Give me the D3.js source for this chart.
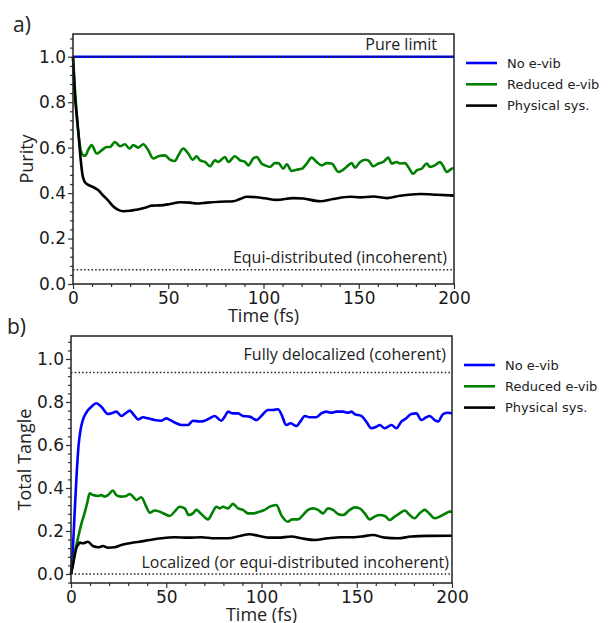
<!DOCTYPE html>
<html>
<head>
<meta charset="utf-8">
<script src="https://cdn.jsdelivr.net/npm/d3@7"></script>
<style>
  body { margin: 0; background: #fff; }
  svg { display: block; }
</style>
</head>
<body>
<svg width="609" height="623"></svg>
<script>
// values, [time (fs), value]
const timeTicks = [0, 50, 100, 150, 200]
const valueTicks = [0, 0.2, 0.4, 0.6, 0.8, 1.0]
const legendLabels = ['No e-vib', 'Reduced e-vib', 'Physical sys.']

const purityNoEvib = [[0, 1], [200, 1]]
const purityReduced = [[0,1],[1,0.86],[2,0.74],[3,0.65],[4,0.59],[5.4,0.566],[6.5,0.565],[8,0.59],[9.8,0.611],[12.4,0.574],[15,0.588],[17.7,0.603],[19.4,0.603],[22,0.625],[24.7,0.606],[27.3,0.615],[29.6,0.596],[31.7,0.611],[34.3,0.6],[36.9,0.615],[39.5,0.588],[42.2,0.552],[44.8,0.562],[48.3,0.566],[50.9,0.547],[53.5,0.541],[55.3,0.566],[57.9,0.596],[60.5,0.574],[62.8,0.547],[64.9,0.562],[66.7,0.544],[69.3,0.537],[71.9,0.518],[74.5,0.544],[76.3,0.537],[79.8,0.559],[81.5,0.537],[85,0.562],[87.7,0.544],[90.3,0.537],[92,0.522],[94.6,0.552],[96.4,0.559],[99,0.53],[100.8,0.522],[103.4,0.515],[106,0.532],[107.8,0.532],[110.4,0.507],[112.2,0.527],[114.8,0.497],[117.4,0.503],[120.1,0.507],[122.7,0.53],[125.3,0.556],[127.9,0.537],[130.6,0.522],[133.2,0.532],[135.8,0.53],[139.3,0.493],[141.9,0.503],[144.5,0.522],[146.3,0.532],[148,0.512],[150.7,0.537],[153.3,0.547],[155,0.544],[157.6,0.518],[160.3,0.53],[162.9,0.537],[165.5,0.556],[167.3,0.53],[169.9,0.537],[171.7,0.53],[174.3,0.532],[176,0.515],[178.6,0.485],[180.4,0.5],[183,0.507],[185.7,0.53],[187.4,0.515],[190,0.522],[192.7,0.537],[194.1,0.522],[196.2,0.493],[198.8,0.507],[200,0.51]]
const purityPhysical = [[0,1],[1,0.83],[2,0.74],[3,0.65],[4,0.55],[5,0.48],[6,0.452],[8,0.436],[10.7,0.426],[13.3,0.412],[15.9,0.389],[18.5,0.367],[21.2,0.341],[23.8,0.326],[26.4,0.32],[29.9,0.322],[33.4,0.327],[37.8,0.335],[41.3,0.345],[45.7,0.346],[50.9,0.352],[56.2,0.36],[61.4,0.358],[64.9,0.354],[70.2,0.358],[77.2,0.362],[84.1,0.364],[87.7,0.374],[91.2,0.384],[96.4,0.382],[100.8,0.377],[106.9,0.37],[115.6,0.378],[120.9,0.376],[129.7,0.364],[136.6,0.374],[145.4,0.384],[150.7,0.381],[157.6,0.385],[164.7,0.378],[171.7,0.388],[182.2,0.396],[190.9,0.393],[200,0.389]]

const tangleNoEvib = [[0,0],[1,0.12],[2,0.3],[3,0.47],[4,0.6],[5,0.67],[6,0.71],[8,0.75],[10.7,0.778],[13.3,0.794],[15.9,0.778],[19.4,0.744],[22,0.75],[23.8,0.755],[26.4,0.735],[29,0.75],[30.8,0.76],[33.4,0.735],[35.2,0.719],[37.8,0.729],[40.4,0.724],[43.9,0.716],[47.4,0.713],[50,0.724],[52.7,0.713],[55.3,0.701],[57.9,0.693],[61.4,0.693],[64,0.713],[67.5,0.709],[70.2,0.713],[72.8,0.724],[75.4,0.735],[78.9,0.713],[80.7,0.732],[82.4,0.755],[85,0.747],[87.7,0.747],[90.3,0.735],[93.8,0.732],[97.3,0.716],[99.9,0.735],[103.4,0.763],[106,0.763],[108.7,0.766],[110.4,0.744],[113,0.693],[115.3,0.701],[118.3,0.688],[120.9,0.716],[122.7,0.735],[125.3,0.729],[128.8,0.729],[131.4,0.747],[134,0.755],[136.7,0.75],[139.3,0.755],[142.8,0.755],[145.4,0.75],[147.2,0.755],[148.9,0.744],[152.4,0.735],[155,0.709],[157.6,0.678],[160.3,0.685],[162,0.693],[164.7,0.678],[166.4,0.685],[168.2,0.693],[170.8,0.678],[173.4,0.709],[176,0.724],[178.6,0.744],[181.3,0.747],[183.9,0.716],[186.5,0.729],[188.3,0.735],[190.9,0.716],[192.7,0.709],[195.3,0.744],[197.9,0.75],[200,0.747]]
const tangleReduced = [[0,0],[2,0.1],[4,0.18],[5.5,0.235],[7,0.28],[8.5,0.33],[9.8,0.375],[11.5,0.367],[14.2,0.363],[15.9,0.367],[17.7,0.36],[19.4,0.367],[22,0.388],[23.8,0.367],[26.4,0.36],[29,0.363],[30.8,0.372],[32.5,0.36],[34.3,0.344],[36.9,0.357],[39.5,0.313],[41.3,0.285],[43.9,0.295],[46.5,0.29],[49.2,0.279],[51.8,0.27],[54.4,0.29],[57,0.313],[59.7,0.305],[61.8,0.274],[64,0.282],[65.8,0.298],[68.4,0.279],[71.9,0.254],[74.5,0.29],[76.3,0.313],[78,0.305],[79.8,0.313],[82.4,0.305],[85,0.326],[87.7,0.305],[90.3,0.298],[92.9,0.282],[95.5,0.282],[99,0.29],[101.7,0.298],[104.3,0.313],[107.8,0.321],[110.4,0.274],[113.9,0.243],[116,0.254],[119.2,0.254],[121.8,0.274],[124.4,0.298],[127,0.305],[129.7,0.298],[132.3,0.282],[134.9,0.305],[137.5,0.298],[140.2,0.279],[142.8,0.274],[146.3,0.298],[148.9,0.31],[151.5,0.305],[154.2,0.282],[156.8,0.254],[159.4,0.267],[162,0.274],[164.7,0.27],[167.3,0.251],[169.9,0.267],[172.5,0.282],[175.2,0.295],[177.8,0.274],[180.4,0.259],[183,0.282],[185.7,0.298],[188.3,0.279],[190.9,0.259],[193.5,0.267],[196.1,0.279],[198.8,0.29],[200,0.29]]
const tanglePhysical = [[0,0],[1,0.04],[2,0.09],[3,0.125],[3.7,0.135],[4.6,0.146],[6.3,0.143],[8.9,0.15],[11.5,0.13],[14.2,0.124],[16.8,0.13],[19.4,0.122],[22.9,0.124],[26.4,0.135],[30.8,0.143],[36,0.15],[41.3,0.158],[47.4,0.166],[54.4,0.171],[61.4,0.169],[68.4,0.171],[75.4,0.166],[82.4,0.166],[88.6,0.177],[93.8,0.185],[98.2,0.178],[103.4,0.169],[108.7,0.169],[115.7,0.174],[120.9,0.166],[127.9,0.158],[134.9,0.166],[141.9,0.171],[148.9,0.171],[152.4,0.174],[158.5,0.181],[164.7,0.169],[171.7,0.166],[178.6,0.174],[187.4,0.177],[200,0.178]]

// reference levels: purity (pure limit, equi-distributed), tangle (fully delocalized, localized)
const purityLevels = [1.0, 0.0625]
const tangleLevels = [0.9375, 0]

const colors = ['#0000ff', '#008000', '#000000']
const svg = d3.select('svg')
const tickFont = '"DejaVu Sans", sans-serif'
const noteFont = '"Open Sans", sans-serif'

function drawPanel(p) {
  const x = d3.scaleLinear().domain([0, 200]).range([p.left, p.right])
  const y = d3.scaleLinear().domain(p.yDomain).range([p.bottom, p.top])
  const g = svg.append('g')

  // minor ticks
  const xMinor = d3.range(0, 201, 10).filter(v => !timeTicks.includes(v))
  const yMinor = d3.range(Math.ceil(p.yDomain[0] / 0.04), Math.floor(p.yDomain[1] / 0.04) + 1)
    .map(i => +(i * 0.04).toFixed(2)).filter(v => Math.abs(v * 5 - Math.round(v * 5)) > 1e-6)

  const xAxis = d3.axisBottom(x).tickValues(timeTicks).tickFormat(d3.format('d')).tickSize(5).tickPadding(3)
  const yAxis = d3.axisLeft(y).tickValues(valueTicks).tickFormat(d3.format('.1f')).tickSize(5).tickPadding(2)

  g.append('g').attr('transform', `translate(0,${p.bottom})`)
    .call(d3.axisBottom(x).tickValues(xMinor).tickFormat('').tickSize(3))
  g.append('g').attr('transform', `translate(${p.left},0)`)
    .call(d3.axisLeft(y).tickValues(yMinor).tickFormat('').tickSize(3))
  g.append('g').attr('transform', `translate(0,${p.bottom})`).call(xAxis)
  g.append('g').attr('transform', `translate(${p.left},0)`).call(yAxis)
  g.selectAll('.domain').remove()
  g.selectAll('.tick line').attr('stroke', '#333').attr('stroke-width', 1.2)
  g.selectAll('.tick text').attr('font-family', tickFont).attr('font-size', 17).attr('fill', '#1a1a1a')

  const line = d3.line().x(d => x(d[0])).y(d => y(d[1])).curve(d3.curveMonotoneX)

  // series (blue, green, black)
  p.series.forEach((s, i) => {
    g.append('path').datum(s).attr('d', line)
      .attr('fill', 'none').attr('stroke', colors[i]).attr('stroke-width', 2.6)
      .attr('stroke-linejoin', 'round')
  })

  // dotted reference levels
  p.levels.forEach(v => {
    g.append('line').attr('x1', p.left).attr('x2', p.right).attr('y1', y(v)).attr('y2', y(v))
      .attr('stroke', '#222').attr('stroke-width', 1.5).attr('stroke-dasharray', '1.5,2.2')
  })

  // frame
  g.append('rect').attr('x', p.left).attr('y', p.top)
    .attr('width', p.right - p.left).attr('height', p.bottom - p.top)
    .attr('fill', 'none').attr('stroke', '#222').attr('stroke-width', 1.5)

  // notes
  p.notes.forEach(n => {
    g.append('text').attr('x', n.x).attr('y', n.y).attr('text-anchor', 'end')
      .attr('font-family', noteFont).attr('font-size', 16).attr('fill', '#222').text(n.text)
  })

  // axis labels
  g.append('text').attr('x', (p.left + p.right) / 2).attr('y', p.bottom + 38)
    .attr('text-anchor', 'middle').attr('font-family', noteFont).attr('font-size', 18)
    .attr('fill', '#222').text('Time (fs)')
  g.append('text').attr('transform', `translate(${p.yLabelX},${(p.top + p.bottom) / 2}) rotate(-90)`)
    .attr('text-anchor', 'middle').attr('font-family', noteFont).attr('font-size', 18)
    .attr('fill', '#222').text(p.yLabel)

  // panel tag
  g.append('text').attr('x', p.tagX).attr('y', p.tagY).attr('font-family', noteFont)
    .attr('font-size', 21).attr('fill', '#222').text(p.tag)

  // legend
  const lg = g.append('g').attr('transform', `translate(${p.right + 12},${p.top + 29})`)
  legendLabels.forEach((lab, i) => {
    const row = lg.append('g').attr('transform', `translate(0,${i * 21.3})`)
    row.append('line').attr('x1', 0).attr('x2', 31).attr('stroke', colors[i]).attr('stroke-width', 2.6)
    row.append('text').attr('x', 41).attr('dy', '0.35em').attr('font-family', tickFont)
      .attr('font-size', 13).attr('fill', '#222').text(lab)
  })
}

drawPanel({
  left: 73, right: 454, top: 34, bottom: 284, yDomain: [0, 1.1],
  series: [purityNoEvib, purityReduced, purityPhysical], levels: purityLevels,
  yLabel: 'Purity', yLabelX: 33, tag: 'a)', tagX: 13, tagY: 32,
  notes: [{ text: 'Pure limit', x: 437, y: 50 }, { text: 'Equi-distributed (incoherent)', x: 447, y: 263 }]
})

drawPanel({
  left: 71, right: 452, top: 336, bottom: 583, yDomain: [-0.042, 1.107],
  series: [tangleNoEvib, tangleReduced, tanglePhysical], levels: tangleLevels,
  yLabel: 'Total Tangle', yLabelX: 31, tag: 'b)', tagX: 7, tagY: 334,
  notes: [{ text: 'Fully delocalized (coherent)', x: 446, y: 360 }, { text: 'Localized (or equi-distributed incoherent)', x: 449, y: 568 }]
})
</script>
</body>
</html>
